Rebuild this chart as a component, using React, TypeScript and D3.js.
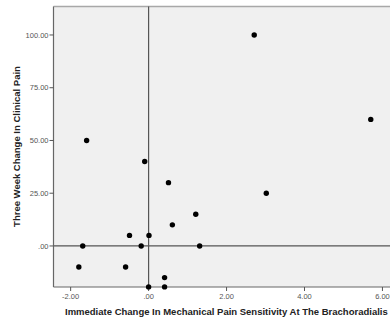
import React from "react";
import * as d3 from "d3";

const xValues = [2.71, 5.7, -1.59, -0.1, 0.51, 0.61, 1.21, 3.02, 1.31, -0.49, 0.01, -1.69, -0.19, -1.79, -0.59, 0.41, 0.41, 0.0];
const yValues = [100, 60, 50, 40, 30, 10, 15, 25, 0, 5, 5, 0, 0, -10, -10, -15, -19.4, -19.4];
const xTicks = [-2, 0, 2, 4, 6];
const yTicks = [0, 25, 50, 75, 100];
const xTitle = "Immediate Change In Mechanical Pain Sensitivity At The Brachoradialis";
const yTitle = "Three Week Change In Clinical Pain";

const fmt = (v: number) => {
  if (v === 0) return ".00";
  return v.toFixed(2);
};

export default function App() {
  const W = 390, H = 322;
  const left = 53.5, right = 392, top = 6.5, bottom = 287;
  const x = d3.scaleLinear().domain([-2.44, 6.245]).range([left, right]);
  const y = d3.scaleLinear().domain([-19.45, 113.5]).range([bottom, top]);
  const font = "Liberation Sans, Arial, sans-serif";
  return (
    <svg width={W} height={H} style={{ position: "absolute", left: 0, top: 0 }}>
      <rect x={0} y={0} width={W} height={H} fill="#fff" />
      <rect x={left} y={top} width={right - left} height={bottom - top} fill="#f0f0f0" />
      <line x1={left} x2={right} y1={top} y2={top} stroke="#a8a8a8" strokeWidth={1.6} />
      {/* reference lines */}
      <line x1={x(0)} x2={x(0)} y1={top} y2={bottom} stroke="#555" strokeWidth={1.2} />
      <line x1={left} x2={right} y1={y(0)} y2={y(0)} stroke="#555" strokeWidth={1.2} />
      {/* axes */}
      <line x1={left} x2={left} y1={top} y2={bottom} stroke="#666" strokeWidth={1.2} />
      <line x1={left} x2={right} y1={bottom} y2={bottom} stroke="#666" strokeWidth={1.2} />
      {yTicks.map((t) => (
        <g key={"y" + t}>
          <line x1={left - 4} x2={left} y1={y(t)} y2={y(t)} stroke="#555" strokeWidth={1} />
          <text x={left - 5} y={y(t)} dy="0.35em" textAnchor="end" fontSize={7.5} fill="#555" fontFamily={font}>
            {fmt(t)}
          </text>
        </g>
      ))}
      {xTicks.map((t) => (
        <g key={"x" + t}>
          <line x1={x(t)} x2={x(t)} y1={bottom} y2={bottom + 4} stroke="#555" strokeWidth={1} />
          <text x={x(t)} y={bottom + 9} dy="0.35em" textAnchor="middle" fontSize={7.5} fill="#555" fontFamily={font}>
            {fmt(t)}
          </text>
        </g>
      ))}
      {xValues.map((v, i) => (
        <circle key={i} cx={x(v)} cy={y(yValues[i])} r={2.7} fill="#000" />
      ))}
      <text x={65} y={312} dy="0.35em" textAnchor="start" fontSize={9.5} fontWeight="bold" fill="#222" fontFamily={font}>
        {xTitle}
      </text>
      <text transform={`translate(17,146.5) rotate(-90)`} dy="0.35em" textAnchor="middle" fontSize={9.5} fontWeight="bold" fill="#222" fontFamily={font}>
        {yTitle}
      </text>
    </svg>
  );
}
